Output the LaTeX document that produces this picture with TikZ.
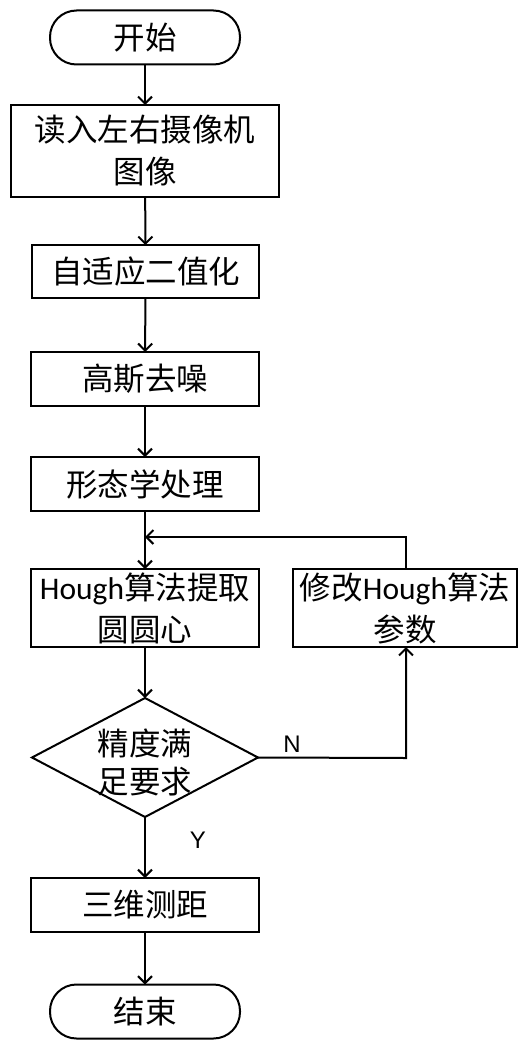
\documentclass[tikz,border=0pt]{standalone}
\usepackage{fontspec}
\setmainfont{Noto Sans CJK SC}
\newfontfamily\lat{Carlito}
\newfontfamily\arl{Liberation Sans}
\usetikzlibrary{arrows.meta,shapes.geometric}
\begin{document}
\begin{tikzpicture}[x=1pt,y=-1pt,
  line width=2pt,
  every node/.style={inner sep=0pt,outer sep=0pt},
  txt/.style={font=\fontsize{31.5}{42}\selectfont,align=center},
  proc/.style={draw,txt,minimum width=228pt,minimum height=54pt},
  term/.style={draw,txt,rounded corners=26.5pt,minimum width=190pt,minimum height=54pt},
  arr/.style={-{Straight Barb[length=7pt,width=14pt,line width=2pt]}},
  lbl/.style={font=\arl\fontsize{24}{28}\selectfont}]
\useasboundingbox (0,0) rectangle (519,1041);
\node[term] (start) at (145,37.5) {开始};
\node[proc,minimum width=268pt,minimum height=92pt] (read) at (145,151) {读入左右摄像机\\图像};
\node[proc,minimum width=227pt,minimum height=53pt] (bin) at (145.5,271.5) {自适应二值化};
\node[proc] (gauss) at (145,379) {高斯去噪};
\node[proc] (morph) at (145,484) {形态学处理};
\node[proc,minimum height=78pt] (hough) at (145,608) {{\lat Hough}算法提取\\圆圆心};
\node[proc,minimum width=224pt,minimum height=78pt] (mod) at (405,608) {修改{\lat Hough}算法\\参数};
\node[draw,diamond,minimum width=226pt,minimum height=119pt] (dec) at (145,757.5) {};
\node[font=\fontsize{31.5}{38}\selectfont,align=center] (dectxt) at (145,762) {精度满\\足要求};
\node[proc] (meas) at (145,905) {三维测距};
\node[term] (end) at (145,1011.5) {结束};
\coordinate (join) at (145,537);
\coordinate (nc) at (406,758);
\coordinate (tc) at (406,537);
\draw[arr] (start) -- (read);
\draw[arr] (read) -- (bin);
\draw[arr] (bin) -- (gauss);
\draw[arr] (gauss) -- (morph);
\draw[arr] (morph) -- (hough);
\draw[arr] (hough) -- (dec);
\draw[arr] (dec) -- (meas);
\draw[arr] (meas) -- (end);
\draw[arr] (dec.east) -- (nc) -- (mod.south -| nc);
\draw[arr] (mod.north -| tc) -- (tc) -- (join);
\node[lbl] (N) at (292,744) {N};
\node[lbl] (Y) at (198,840) {Y};
\end{tikzpicture}
\end{document}
